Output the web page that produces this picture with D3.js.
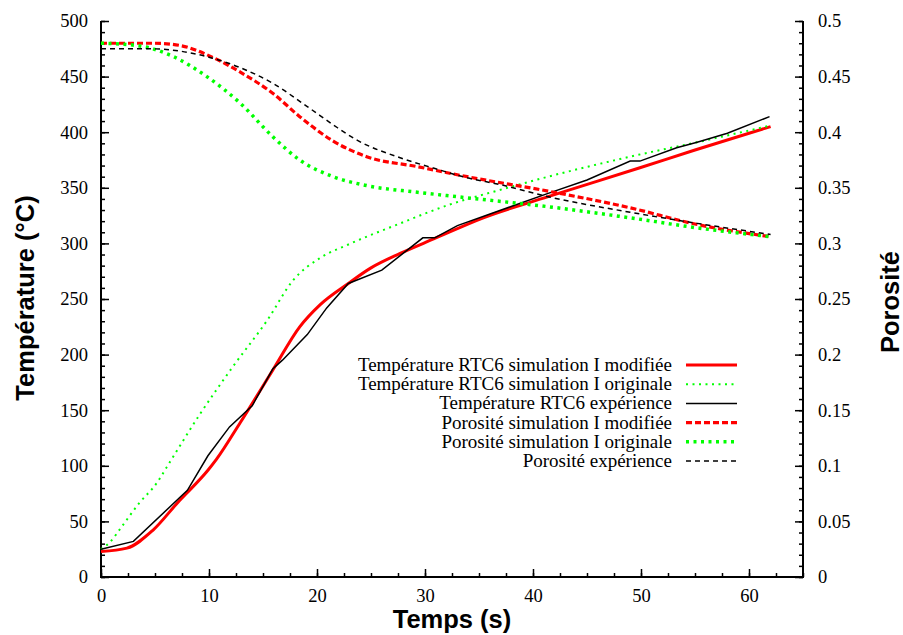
<!DOCTYPE html>
<html><head><meta charset="utf-8">
<script src="https://cdn.jsdelivr.net/npm/d3@7"></script>
<style>body{margin:0;background:#fff}svg{display:block}</style>
</head><body>
<svg id="c" width="903" height="635"></svg>
<script>
// Temperature (°C) series [time s, value]
const tempSimMod = [[0,23],[2.4,26],[4.8,42],[7.3,69],[8,76],[9.9,96],[10.7,106],[12.9,139],[15.9,186],[18.4,225],[20.3,245],[22.9,264],[25,278],[27.7,291],[30.8,304],[35.4,323],[41.4,342],[49.9,368],[55,384],[62,405]];
const tempSimOrig = [[0,25],[0.8,31],[1.9,45],[3.5,66],[5.2,85],[6.1,99],[9.2,147],[12.2,189],[15.4,231],[17.8,267],[20.3,287],[22.9,299],[27.7,318],[32.3,335],[36.9,348],[41.4,360],[49,378],[55.2,391],[62,406]];
const tempExp = [[0,25],[3,32],[8,78],[9.9,109],[11.9,135],[14,154],[15.9,187],[16.8,195],[19.1,218],[20.9,242],[22.9,264],[26,276],[29.8,305],[30.9,305],[33,316],[41.4,345],[45,357],[49,374],[49.9,374],[53.3,386],[55.2,391],[58,399],[61.9,414]];
// Porosity series [time s, value]
const poroSimMod = [[0,0.480],[5,0.480],[7.3,0.478],[10.4,0.467],[12.9,0.454],[15.9,0.435],[18.4,0.414],[21.5,0.392],[24.6,0.378],[29.3,0.369],[33.9,0.360],[41.4,0.347],[49,0.332],[55.2,0.317],[62,0.306]];
const poroSimOrig = [[0,0.480],[3.3,0.478],[6.7,0.468],[9.8,0.450],[12.9,0.426],[15.9,0.396],[18.4,0.375],[21.5,0.360],[24.6,0.352],[29.3,0.346],[33.9,0.341],[41.4,0.333],[49,0.323],[55.2,0.314],[62,0.306]];
const poroExp = [[0,0.475],[4.5,0.475],[9.8,0.468],[12.9,0.458],[15.9,0.444],[19.1,0.423],[21.9,0.404],[23.5,0.394],[27.7,0.377],[30.7,0.368],[33.9,0.359],[36.9,0.353],[41.4,0.342],[49,0.328],[55.2,0.318],[62,0.308]];

const xTicks = [0,10,20,30,40,50,60];
const yLeftTicks = [0,50,100,150,200,250,300,350,400,450,500];
const yRightTicks = [0,0.05,0.1,0.15,0.2,0.25,0.3,0.35,0.4,0.45,0.5];
const legendLabels = ["Température RTC6 simulation I modifiée","Température RTC6 simulation I originale","Température RTC6 expérience","Porosité simulation I modifiée","Porosité simulation I originale","Porosité expérience"];

const svg = d3.select("#c");
const L=101,R=803,T=21,B=577;
const x = d3.scaleLinear().domain([0,65]).range([L,R]);
const yT = d3.scaleLinear().domain([0,500]).range([B,T]);
const yP = d3.scaleLinear().domain([0,0.5]).range([B,T]);

const serif = "'Liberation Serif','Times New Roman',serif";
const sans = "'Liberation Sans',Arial,sans-serif";

// Axes
const g = svg.append("g");
function styleAxis(sel){
  sel.select(".domain").remove();
  sel.selectAll("line").attr("stroke","#000").attr("stroke-width",1.5);
  sel.selectAll("text").attr("font-family",serif).attr("font-size","18.5px").attr("fill","#000");
}
// minor ticks
g.append("g").attr("transform",`translate(0,${B})`).call(d3.axisTop(x).tickValues(d3.range(0,65.01,2.5)).tickSize(4).tickFormat("")).call(styleAxis);
g.append("g").attr("transform",`translate(${L},0)`).call(d3.axisRight(yT).tickValues(d3.range(0,501,10)).tickSize(4).tickFormat("")).call(styleAxis);
g.append("g").attr("transform",`translate(${R},0)`).call(d3.axisLeft(yP).tickValues(d3.range(0,51,1).map(d=>d/100)).tickSize(4).tickFormat("")).call(styleAxis);
// major ticks
g.append("g").attr("transform",`translate(0,${B})`).call(d3.axisTop(x).tickValues(xTicks).tickSize(8).tickFormat("")).call(styleAxis);
g.append("g").attr("transform",`translate(${L},0)`).call(d3.axisRight(yT).tickValues(yLeftTicks).tickSize(8).tickFormat("")).call(styleAxis);
g.append("g").attr("transform",`translate(${R},0)`).call(d3.axisLeft(yP).tickValues(yRightTicks).tickSize(8).tickFormat("")).call(styleAxis);
// labels
g.append("g").attr("transform",`translate(0,${B})`).call(d3.axisBottom(x).tickValues(xTicks).tickSize(0).tickPadding(12).tickFormat(d3.format("d"))).call(styleAxis);
g.append("g").attr("transform",`translate(${L},0)`).call(d3.axisLeft(yT).tickValues(yLeftTicks).tickSize(0).tickPadding(13).tickFormat(d3.format("d"))).call(styleAxis);
g.append("g").attr("transform",`translate(${R},0)`).call(d3.axisRight(yP).tickValues(yRightTicks).tickSize(0).tickPadding(15).tickFormat(d=>String(+d.toFixed(2)))).call(styleAxis);

// axis lines
g.append("path").attr("d",`M${L},${T}V${B}H${R}V${T}`).attr("fill","none").attr("stroke","#000").attr("stroke-width",2);

// series
const styles = [
  {data:tempSimMod, y:yT, color:"#ff0000", w:3, dash:null, smooth:true},
  {data:tempSimOrig, y:yT, color:"#00ff00", w:2, dash:"2,4.5", smooth:true},
  {data:tempExp, y:yT, color:"#000", w:1.5, dash:null, smooth:false},
  {data:poroSimMod, y:yP, color:"#ff0000", w:3.2, dash:"6,3", smooth:true},
  {data:poroSimOrig, y:yP, color:"#00ff00", w:3.5, dash:"3,4.5", smooth:true},
  {data:poroExp, y:yP, color:"#000", w:1.5, dash:"5,4", smooth:true}
];
const plot = svg.append("g");
styles.forEach(s=>{
  const line = d3.line().x(d=>x(d[0])).y(d=>s.y(d[1])).curve(s.smooth?d3.curveMonotoneX:d3.curveLinear);
  plot.append("path").datum(s.data).attr("d",line).attr("fill","none")
    .attr("stroke",s.color).attr("stroke-width",s.w).attr("stroke-dasharray",s.dash);
});

// legend
const leg = svg.append("g");
const ly0 = 365, ldy = 19.2;
styles.forEach((s,i)=>{
  const yy = ly0 + i*ldy;
  leg.append("text").attr("x",672).attr("y",yy+6).attr("text-anchor","end")
    .attr("font-family",serif).attr("font-size","19px").text(legendLabels[i]);
  leg.append("line").attr("x1",686).attr("x2",737).attr("y1",yy).attr("y2",yy)
    .attr("stroke",s.color).attr("stroke-width",s.w).attr("stroke-dasharray",s.dash);
});

// titles
svg.append("text").attr("x",452).attr("y",628).attr("text-anchor","middle")
  .attr("font-family",sans).attr("font-weight","bold").attr("font-size","25.5px").text("Temps (s)");
svg.append("text").attr("transform","translate(34,298) rotate(-90)").attr("text-anchor","middle")
  .attr("font-family",sans).attr("font-weight","bold").attr("font-size","25.5px").text("Température (°C)");
svg.append("text").attr("transform","translate(899,302) rotate(-90)").attr("text-anchor","middle")
  .attr("font-family",sans).attr("font-weight","bold").attr("font-size","25.5px").text("Porosité");
</script>
</body></html>
